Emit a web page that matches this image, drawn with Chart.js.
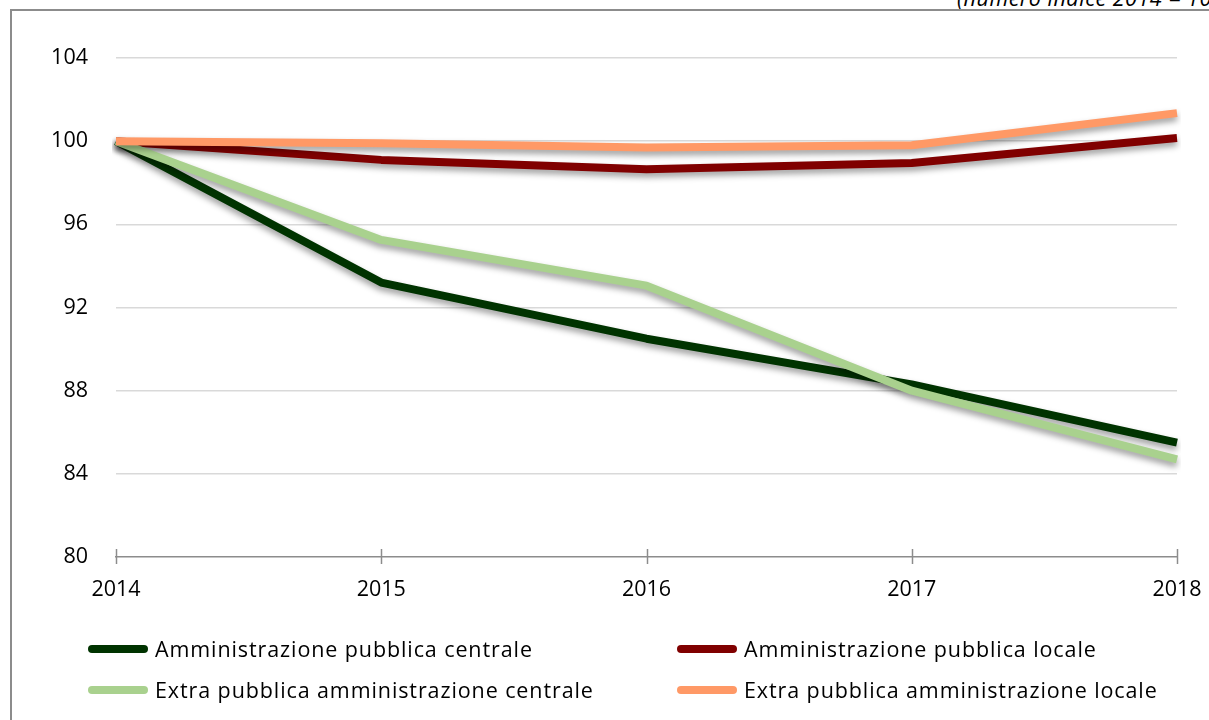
<!DOCTYPE html>
<html>
<head>
<meta charset="utf-8">
<script src="https://cdn.jsdelivr.net/npm/chart.js@4.4.0/dist/chart.umd.min.js"></script>
<style>
  html, body { margin:0; padding:0; background:#fff; }
  #wrap { position:relative; width:1209px; height:720px; overflow:hidden; font-family:"Open Sans", sans-serif; }
  #frame { position:absolute; left:10px; top:9px; width:1300px; height:800px; border:2px solid #8c8c8c; box-sizing:border-box; }
  #note { position:absolute; left:957px; top:-17px; font-size:21.5px; font-style:italic; white-space:nowrap; color:#000; letter-spacing:0.5px; }
  canvas { position:absolute; left:0; top:0; }
  .leg { position:absolute; display:flex; align-items:center; font-size:21.5px; line-height:28px; color:#000; white-space:nowrap; letter-spacing:0.9px; }
  .leg span.sw { display:inline-block; width:60px; height:8px; border-radius:4px; margin-right:7px; }
</style>
</head>
<body>
<div id="wrap">
  <div id="frame"></div>
  <div id="note">(numero indice 2014 = 100)</div>
  <canvas id="c" width="1209" height="720"></canvas>
  <div id="legend"></div>
</div>
<script>
const years = ["2014", "2015", "2016", "2017", "2018"];
const yTicks = [80, 84, 88, 92, 96, 100, 104];
const seriesNames = [
  "Amministrazione pubblica centrale",
  "Amministrazione pubblica locale",
  "Extra pubblica amministrazione centrale",
  "Extra pubblica amministrazione locale"
];
const apCentrale = [100, 93.2, 90.5, 88.3, 85.5];
const apLocale = [100, 99.1, 98.65, 98.95, 100.15];
const extraCentrale = [100, 95.25, 93.05, 88.0, 84.7];
const extraLocale = [100, 99.9, 99.7, 99.8, 101.35];
const seriesColors = ["#003300", "#800000", "#a9d18e", "#ff9966"];

const seriesValues = [apCentrale, apLocale, extraCentrale, extraLocale];

const shadowPlugin = {
  id: 'shadow',
  beforeDatasetDraw(chart) {
    const ctx = chart.ctx;
    ctx.save();
    ctx.shadowColor = 'rgba(0,0,0,0.38)';
    ctx.shadowBlur = 6;
    ctx.shadowOffsetY = 4;
  },
  afterDatasetDraw(chart) {
    chart.ctx.restore();
  }
};

const tickMarks = {
  id: 'tickMarks',
  afterDraw(chart) {
    const ctx = chart.ctx;
    const xs = chart.scales.x;
    const b = chart.chartArea.bottom;
    ctx.save();
    ctx.strokeStyle = '#8c8c8c';
    ctx.lineWidth = 1.5;
    years.forEach((y, i) => {
      const px = Math.round(xs.getPixelForValue(i)) + 0.5;
      ctx.beginPath();
      ctx.moveTo(px, b - 8);
      ctx.lineTo(px, b + 7);
      ctx.stroke();
    });
    ctx.restore();
  }
};

const tickFont = { family: 'Open Sans', size: 21.5 };

new Chart(document.getElementById('c'), {
  type: 'line',
  data: {
    labels: years,
    datasets: seriesValues.map((vals, i) => ({
      label: seriesNames[i],
      data: vals,
      borderColor: seriesColors[i],
      backgroundColor: seriesColors[i],
      borderWidth: 8,
      pointRadius: 0,
      tension: 0,
      borderJoinStyle: 'round',
      borderCapStyle: 'butt',
      order: 4 - i
    }))
  },
  options: {
    responsive: false,
    animation: false,
    layout: { padding: { left: 0, right: 32, top: 58, bottom: 0 } },
    plugins: { legend: { display: false }, tooltip: { enabled: false } },
    scales: {
      x: {
        offset: false,
        grid: { display: false, drawTicks: false },
        border: { display: true, color: '#8c8c8c', width: 1.5 },
        ticks: { color: '#000', font: tickFont, padding: 20, maxRotation: 0 },
        afterFit(s) { s.height = 163; s.paddingLeft = 0; s.paddingRight = 0; }
      },
      y: {
        min: 80, max: 104,
        afterBuildTicks(s) { s.ticks = yTicks.map(v => ({ value: v })); },
        grid: { color: ctx => ctx.tick && ctx.tick.value === 80 ? 'rgba(0,0,0,0)' : '#d9d9d9', lineWidth: 1.5, drawTicks: false },
        border: { display: false },
        ticks: { color: '#000', font: tickFont, padding: 28 },
        afterFit(s) { s.width = 116; s.paddingTop = 0; s.paddingBottom = 0; }
      }
    }
  },
  plugins: [shadowPlugin, tickMarks]
});

const legendPos = [[88, 649], [677, 649], [88, 690], [677, 690]];
const legEl = document.getElementById('legend');
seriesNames.forEach((name, i) => {
  const d = document.createElement('div');
  d.className = 'leg';
  d.style.left = legendPos[i][0] + 'px';
  d.style.top = (legendPos[i][1] - 14) + 'px';
  d.innerHTML = '<span class="sw" style="background:' + seriesColors[i] + '"></span>';
  d.appendChild(document.createTextNode(name));
  legEl.appendChild(d);
});
</script>
</body>
</html>
